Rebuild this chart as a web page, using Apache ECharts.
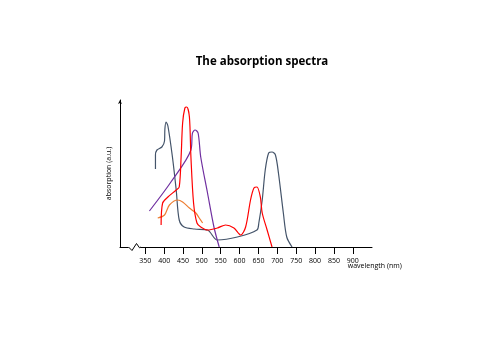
<!DOCTYPE html>
<html>
<head>
<meta charset="utf-8">
<style>
  html, body { margin: 0; padding: 0; background: #fff; }
  #chart { width: 500px; height: 353px; }
</style>
<script src="https://cdn.jsdelivr.net/npm/echarts@6/dist/echarts.min.js"></script>
</head>
<body>
<div id="chart"></div>
<script>
// wavelength ticks shown on the axis
var tickValues = [350, 400, 450, 500, 550, 600, 650, 700, 750, 800, 850, 900];

// curves: wavelength (nm) and absorption (a.u.)
var blueWl  = [377, 377, 381, 394, 401, 402, 405, 410, 422, 432, 440, 453, 480, 515, 541, 594, 646, 651, 660, 668, 677, 686, 695, 703, 716, 725, 739];
var blueAbs = [78, 92, 97, 100, 106, 118, 125, 121, 90, 57, 27, 20, 18, 17, 7, 10, 17, 24, 47, 77, 94, 95, 92, 74, 34, 10, 0];

var redWl  = [392, 396, 410, 432, 440, 445, 449, 455, 460, 467, 471, 478, 487, 497, 515, 541, 563, 585, 603, 616, 629, 638, 646, 655, 660, 673, 686];
var redAbs = [22, 44, 50, 57, 60, 90, 124, 139, 140, 130, 90, 44, 24, 20, 17, 19, 22, 19, 12, 20, 47, 59, 60, 50, 34, 17, 0];

var purpleWl  = [361, 418, 471, 475, 482, 490, 497, 515, 532, 546];
var purpleAbs = [36, 65, 97, 114, 117, 114, 90, 54, 20, 0];

var orangeWl  = [383, 401, 414, 436, 449, 467, 484, 493, 502];
var orangeAbs = [29, 32, 42, 47, 45, 39, 34, 29, 24];

function pairs(xs, ys) {
  return xs.map(function(x, i) { return [x, ys[i]]; });
}

var chart = echarts.init(document.getElementById('chart'), null, { renderer: 'canvas' });

function line(name, xs, ys, color) {
  return {
    name: name,
    type: 'line',
    data: pairs(xs, ys),
    smooth: 0.3,
    symbol: 'none',
    animation: false,
    lineStyle: { color: color, width: 1.2 }
  };
}

chart.setOption({
  backgroundColor: '#fff',
  title: {
    text: 'The absorption spectra',
    left: 257,
    top: 51,
    textAlign: 'center',
    textStyle: { fontFamily: 'Open Sans', fontWeight: 'bold', fontSize: 11.5, color: '#000' }
  },
  grid: { left: 120, right: 128, top: 100, bottom: 106 },
  xAxis: {
    type: 'value',
    min: 283,
    max: 951,
    splitLine: { show: false },
    axisLine: { show: true, onZero: false, lineStyle: { color: '#000', width: 1 } },
    axisTick: { show: true, customValues: tickValues, length: 7, lineStyle: { color: '#000' } },
    axisLabel: { customValues: tickValues, fontSize: 7, color: '#000', margin: 10, fontFamily: 'Open Sans' }
  },
  yAxis: {
    type: 'value',
    min: 0,
    max: 147,
    name: 'absorption (a.u.)',
    nameLocation: 'middle',
    nameGap: 8,
    nameTextStyle: { fontSize: 7, color: '#000', fontFamily: 'Open Sans' },
    splitLine: { show: false },
    axisTick: { show: false },
    axisLabel: { show: false },
    axisLine: { show: true, lineStyle: { color: '#000', width: 1 }, symbol: ['none', 'arrow'], symbolSize: [3, 4] }
  },
  series: [
    line('blue', blueWl, blueAbs, '#44546a'),
    line('purple', purpleWl, purpleAbs, '#7030a0'),
    line('orange', orangeWl, orangeAbs, '#ed7d31'),
    line('red', redWl, redAbs, '#ff0000')
  ]
});

// axis break zigzag and axis name, placed from the axis scale
var p0 = chart.convertToPixel({ xAxisIndex: 0 }, 283);
var y0 = chart.convertToPixel({ yAxisIndex: 0 }, 0);
var p900 = chart.convertToPixel({ xAxisIndex: 0 }, 900);
chart.setOption({
  graphic: [
    { type: 'rect', shape: { x: p0 + 8.5, y: y0 - 2, width: 12, height: 4 }, style: { fill: '#fff' }, z: 100 },
    { type: 'polyline', shape: { points: [[p0 + 8.5, y0], [p0 + 12, y0 + 3.5], [p0 + 16.5, y0 - 3.5], [p0 + 19.5, y0 + 0.8], [p0 + 21, y0]] },
      style: { stroke: '#000', lineWidth: 1, fill: null }, z: 101 },
    { type: 'text', left: p900 - 5, top: y0 + 15, style: { text: 'wavelength (nm)', fontSize: 7, fill: '#000', fontFamily: 'Open Sans' } }
  ]
});

window.addEventListener('resize', function() { chart.resize(); });
</script>
</body>
</html>
